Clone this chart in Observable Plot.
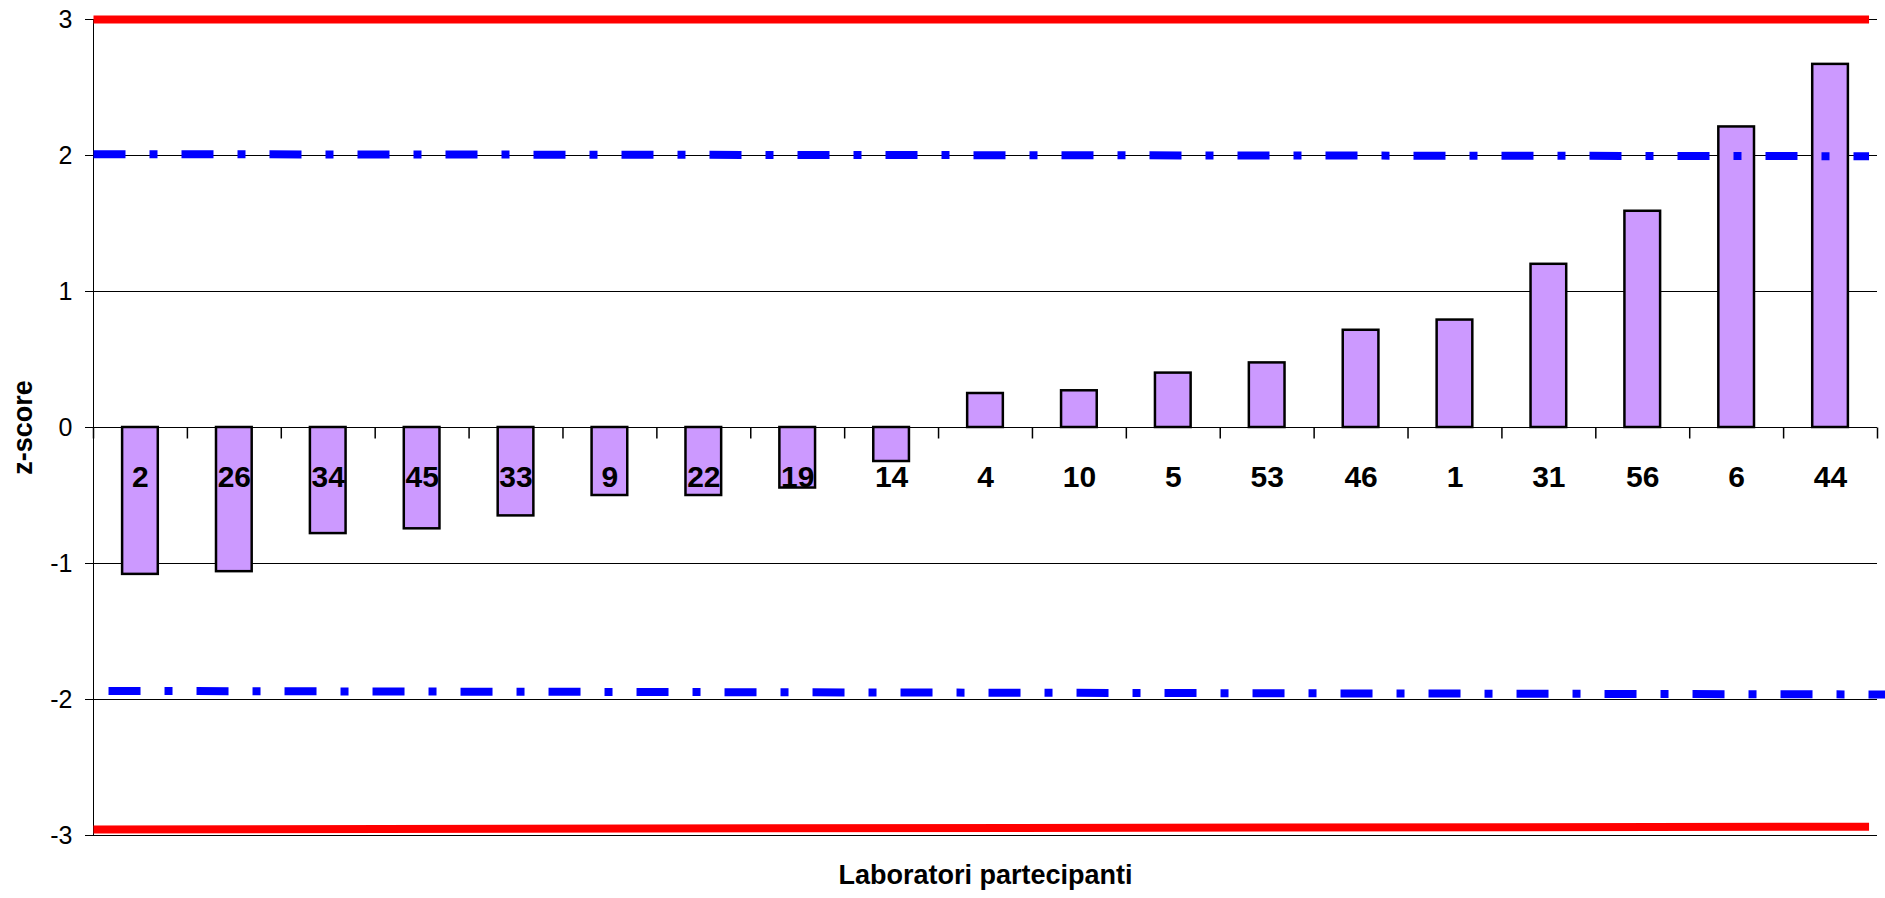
<!DOCTYPE html>
<html><head><meta charset="utf-8">
<script src="https://cdn.jsdelivr.net/npm/d3@7"></script>
<script src="https://cdn.jsdelivr.net/npm/@observablehq/plot@0.6"></script>
<style>html,body{margin:0;padding:0;background:#fff;overflow:hidden}</style>
</head><body><div id="chart"></div>
<script>
// Laboratory codes (categories) and their z-scores
const labs = ["2","26","34","45","33","9","22","19","14","4","10","5","53","46","1","31","56","6","44"];
const zscores = [-1.08,-1.06,-0.78,-0.745,-0.65,-0.50,-0.50,-0.445,-0.25,0.25,0.27,0.40,0.475,0.715,0.79,1.20,1.59,2.21,2.67];
// y-axis tick values
const yTicks = [-3,-2,-1,0,1,2,3];
// limit lines (action = ±3, warning = ±2) as start/end points in category units
const limitKind = ["action","action","warning","warning"];
const limitX1 = [0, 0, 0, 0.16];
const limitX2 = [18.91, 18.91, 18.91, 19.1];
const limitY1 = [3.0, -2.955, 2.01, -1.937];
const limitY2 = [3.0, -2.935, 1.995, -1.963];
const yTitle = "z-score";
const xTitle = "Laboratori partecipanti";

const bars = labs.map((lab, i) => ({lab, i, z: zscores[i]}));
const limits = limitKind.map((kind, k) => ({kind, x1: limitX1[k], x2: limitX2[k], y1: limitY1[k], y2: limitY2[k]}));
const boundaries = d3.range(labs.length + 1);

const font = "'Liberation Sans', Arial, Helvetica, sans-serif";
const W = 1885, H = 898, mL = 93, mR = 8, mT = 19, mB = 63;
const yDomain = [-3, 3];
const pxPerUnit = (H - mT - mB) / (yDomain[1] - yDomain[0]);
const xTickLen = 11 / pxPerUnit; // category tick length (11px) in y units

const chart = Plot.plot({
  width: W,
  height: H,
  marginLeft: mL,
  marginRight: mR,
  marginTop: mT,
  marginBottom: mB,
  style: {fontFamily: font, fontSize: "25px", color: "#000", background: "#fff"},
  x: {domain: [0, labs.length], axis: null},
  y: {domain: yDomain, ticks: yTicks, tickSize: 8, tickPadding: 13, label: null, tickFormat: d => String(d)},
  marks: [
    Plot.ruleY(yTicks, {stroke: "#000", strokeWidth: 1}),
    Plot.ruleX([0], {stroke: "#000", strokeWidth: 1}),
    Plot.link(boundaries, {x1: d => d, x2: d => d, y1: () => 0, y2: () => -xTickLen, stroke: "#000", strokeWidth: 1.5}),
    Plot.rect(bars, {x1: d => d.i + 0.31, x2: d => d.i + 0.69, y1: 0, y2: "z", fill: "#CC99FF", stroke: "#000", strokeWidth: 2.5}),
    Plot.link(limits.filter(d => d.kind === "action"), {x1: "x1", y1: "y1", x2: "x2", y2: "y2", stroke: "#FF0000", strokeWidth: 8, strokeLinecap: "butt"}),
    Plot.link(limits.filter(d => d.kind === "warning"), {x1: "x1", y1: "y1", x2: "x2", y2: "y2", stroke: "#0000FF", strokeWidth: 8, strokeLinecap: "butt", strokeDasharray: "32,24,8,24"}),
    Plot.text(bars, {x: d => d.i + 0.5, y: 0, text: "lab", dy: 59, lineAnchor: "bottom", textAnchor: "middle", fontSize: 30, fontWeight: "bold", fill: "#000"}),
    Plot.text([yTitle], {text: d => d, frameAnchor: "left", rotate: -90, dx: -61.5, textAnchor: "middle", lineAnchor: "bottom", fontSize: 27, fontWeight: "bold", fill: "#000"}),
    Plot.text([xTitle], {text: d => d, frameAnchor: "bottom", dy: 48, textAnchor: "middle", lineAnchor: "bottom", fontSize: 27, fontWeight: "bold", fill: "#000"})
  ]
});
document.getElementById("chart").appendChild(chart);
</script>
</body></html>
